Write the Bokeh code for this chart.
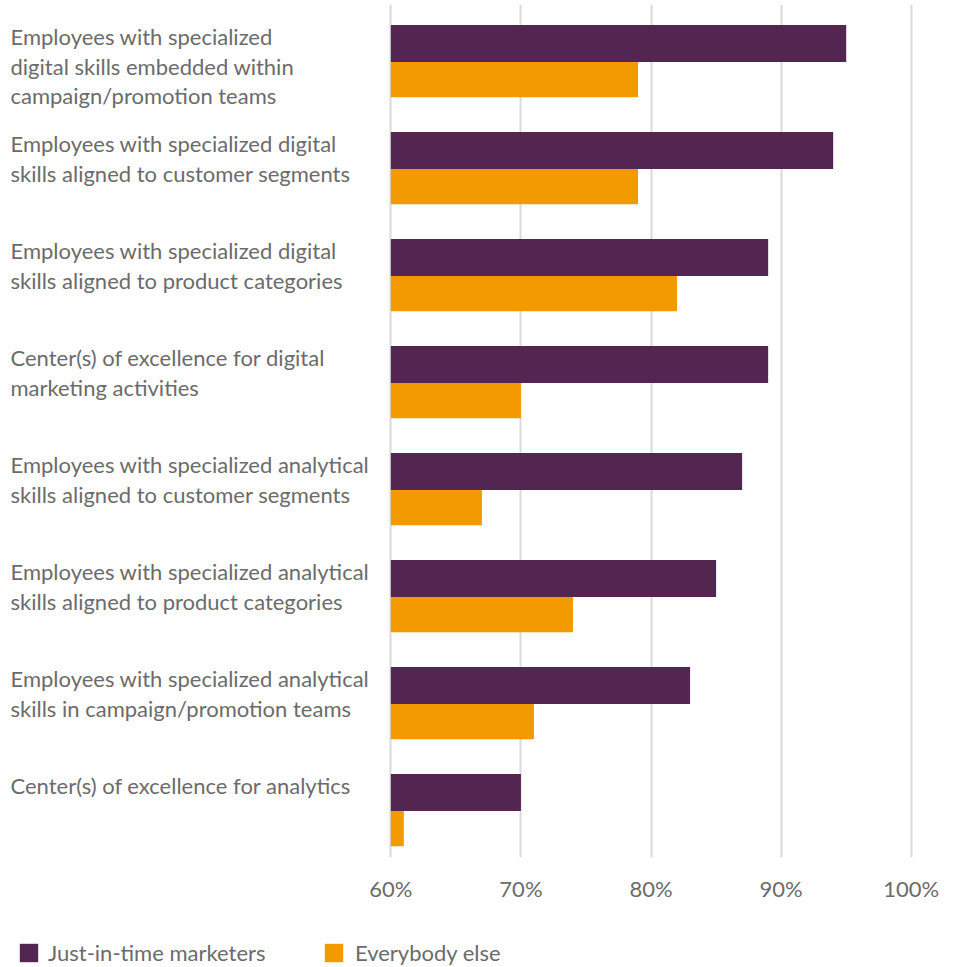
from bokeh.plotting import figure
from bokeh.layouts import column
from bokeh.models import Range1d, FixedTicker, Legend, LegendItem, ColumnDataSource
from bokeh.core.properties import value
from bokeh.embed import file_html
from bokeh.resources import INLINE

categories = [
    "Employees with specialized\ndigital skills embedded within\ncampaign/promotion teams",
    "Employees with specialized digital\nskills aligned to customer segments",
    "Employees with specialized digital\nskills aligned to product categories",
    "Center(s) of excellence for digital\nmarketing activities",
    "Employees with specialized analytical\nskills aligned to customer segments",
    "Employees with specialized analytical\nskills aligned to product categories",
    "Employees with specialized analytical\nskills in campaign/promotion teams",
    "Center(s) of excellence for analytics",
]
just_in_time = [95, 94, 89, 89, 87, 85, 83, 70]
everybody_else = [79, 79, 82, 70, 67, 74, 71, 61]
series_names = ["Just-in-time marketers", "Everybody else"]
tick_values = [60, 70, 80, 90, 100]
tick_labels = ["60%", "70%", "80%", "90%", "100%"]

PURPLE = "#532551"
ORANGE = "#F39A00"
GRAY = "#6b6b6b"
FONT = "Lato"
FS = "22px"

W = 955
H_MAIN, H_LEG = 925, 42
X0, X1 = 30.0, 103.4
px_per_unit = W / (X1 - X0)
BAR_H1 = 0.345
BAR_H2 = 0.33
LABEL_DY = -2 / 107

pos = list(range(len(categories)))
src = ColumnDataSource(dict(
    y1=[p - BAR_H1 / 2 for p in pos],
    y2=[p + BAR_H2 / 2 for p in pos],
    jit=just_in_time,
    ee=everybody_else,
    label=categories,
    ly=[p - BAR_H1 + LABEL_DY for p in pos],
    lx=[X0 + 10 / px_per_unit] * len(pos),
    base=[tick_values[0]] * len(pos),
))

p = figure(width=W, height=H_MAIN, x_range=Range1d(X0, X1), y_range=Range1d(7.435, -0.537),
           y_axis_location=None, output_backend="svg", toolbar_location=None,
           min_border_left=0, min_border_right=0, min_border_top=4, min_border_bottom=H_MAIN - 857)
p.outline_line_color = None
p.ygrid.visible = False
p.xgrid.ticker = FixedTicker(ticks=tick_values)
p.xgrid.grid_line_color = "#d9d9d9"
p.xgrid.grid_line_width = 2

ax = p.xaxis[0]
ax.ticker = FixedTicker(ticks=tick_values)
ax.major_label_overrides = {v: l for v, l in zip(tick_values, tick_labels)}
ax.axis_line_color = None
ax.major_tick_line_color = None
ax.minor_tick_line_color = None
ax.major_label_text_font = FONT
ax.major_label_text_font_size = FS
ax.major_label_text_color = GRAY
ax.major_label_standoff = 11

p.hbar(y="y1", left="base", right="jit", height=BAR_H1, source=src, color=PURPLE, line_color=None)
p.hbar(y="y2", left="base", right="ee", height=BAR_H2, source=src, color=ORANGE, line_color=None)

p.text(x="lx", y="ly", text="label", source=src, text_font=value(FONT), text_font_size=FS,
       text_color=GRAY, text_baseline="top", text_align="left", text_line_height=1.1)

# legend strip (its bars lie outside its visible range; only the legend shows)
leg = figure(width=W, height=H_LEG, x_range=Range1d(0, 1), y_range=Range1d(20, 21),
             x_axis_location=None, y_axis_location=None, output_backend="svg",
             toolbar_location=None, min_border=0)
leg.outline_line_color = None
leg.grid.visible = False
colors = [PURPLE, ORANGE]
fields = ["jit", "ee"]
for i, name in enumerate(series_names):
    r = leg.hbar(y="y1", left="base", right=fields[i], height=BAR_H1, source=src,
                 color=colors[i], line_color=None)
    lg = Legend(items=[LegendItem(label=name, renderers=[r])],
                location=(17 if i == 0 else 322, 1),
                glyph_width=23, glyph_height=23, label_standoff=8 if i == 0 else 10,
                label_text_font=FONT, label_text_font_size=FS, label_text_color=GRAY,
                padding=0, margin=0, border_line_alpha=0, background_fill_alpha=0)
    leg.add_layout(lg, "center")

layout = column(p, leg, spacing=0)
open("out.html", "w").write(file_html(layout, INLINE))
